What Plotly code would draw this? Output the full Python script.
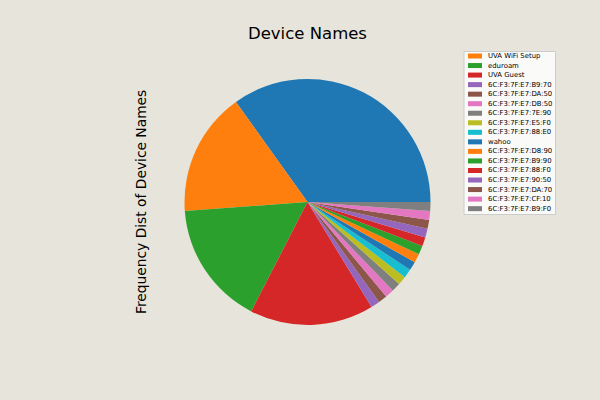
import plotly.graph_objects as go

# ---- data ----
labels = ["", "UVA WiFi Setup", "eduroam", "UVA Guest",
          "6C:F3:7F:E7:B9:70", "6C:F3:7F:E7:DA:50", "6C:F3:7F:E7:DB:50",
          "6C:F3:7F:E7:7E:90", "6C:F3:7F:E7:E5:F0", "6C:F3:7F:E7:88:E0",
          "wahoo", "6C:F3:7F:E7:D8:90", "6C:F3:7F:E7:B9:90",
          "6C:F3:7F:E7:88:F0", "6C:F3:7F:E7:90:50", "6C:F3:7F:E7:DA:70",
          "6C:F3:7F:E7:CF:10", "6C:F3:7F:E7:B9:F0"]
counts = [30, 14, 14, 14, 1, 1, 1, 1, 1, 1, 1, 1, 1, 1, 1, 1, 1, 1]
title_text = "Device Names"
ylabel_text = "Frequency Dist of Device Names"

tab10 = ["#1f77b4", "#ff7f0e", "#2ca02c", "#d62728", "#9467bd",
         "#8c564b", "#e377c2", "#7f7f7f", "#bcbd22", "#17becf"]
colors = [tab10[i % 10] for i in range(len(labels))]

W, H = 600, 400
BG = "#e7e5db"
FONT = "DejaVu Sans"

cx, cy, r = 307.5, 202, 123

# plotly's counterclockwise pies end the first slice at `rotation`;
# shift so the first slice starts at 3 o'clock like matplotlib
rot = 90 - 360.0 * counts[0] / sum(counts)

fig = go.Figure()
fig.add_trace(go.Pie(
    labels=[l if l else " " for l in labels],
    values=counts,
    sort=False,
    direction="counterclockwise",
    rotation=rot,
    marker=dict(colors=colors, line=dict(width=0)),
    textinfo="none",
    hoverinfo="label+value+percent",
    showlegend=False,
    domain=dict(x=[(cx - r) / W, (cx + r) / W],
                y=[1 - (cy + r) / H, 1 - (cy - r) / H]),
))

shapes = []
annotations = []

# title and y-label
annotations.append(dict(text=title_text, x=307 / W, y=1 - 34 / H, xref="paper", yref="paper",
                        xanchor="center", yanchor="middle", showarrow=False,
                        font=dict(family=FONT, size=16.5, color="black")))
annotations.append(dict(text=ylabel_text, x=140.5 / W, y=1 - 202.5 / H, xref="paper", yref="paper",
                        xanchor="center", yanchor="middle", showarrow=False, textangle=-90,
                        font=dict(family=FONT, size=13.8, color="black")))

# legend (entries with non-empty labels)
legend_items = [(l, c) for l, c in zip(labels, colors) if l]
box_x0, box_x1, box_y0, box_y1 = 464, 555.5, 51.5, 214.5
shapes.append(dict(type="rect", xref="paper", yref="paper",
                   x0=box_x0 / W, x1=box_x1 / W, y0=1 - box_y1 / H, y1=1 - box_y0 / H,
                   fillcolor="rgba(255,255,255,0.8)", line=dict(color="rgb(204,204,204)", width=1)))
y_first, step = 56.0, 9.54
for i, (lab, col) in enumerate(legend_items):
    yc = y_first + i * step
    shapes.append(dict(type="rect", xref="paper", yref="paper",
                       x0=468 / W, x1=482 / W, y0=1 - (yc + 2.5) / H, y1=1 - (yc - 2.5) / H,
                       fillcolor=col, line=dict(width=0)))
    annotations.append(dict(text=lab, x=487 / W, y=1 - yc / H, xref="paper", yref="paper",
                            xanchor="left", yanchor="middle", showarrow=False, borderpad=0,
                            font=dict(family=FONT, size=6.9, color="black")))

fig.update_layout(
    width=W, height=H,
    margin=dict(l=0, r=0, t=0, b=0),
    paper_bgcolor=BG, plot_bgcolor=BG,
    shapes=shapes, annotations=annotations,
    showlegend=False,
)

fig.write_html("out.html", config={"displayModeBar": False},
               post_script="document.body.style.margin='0';")
